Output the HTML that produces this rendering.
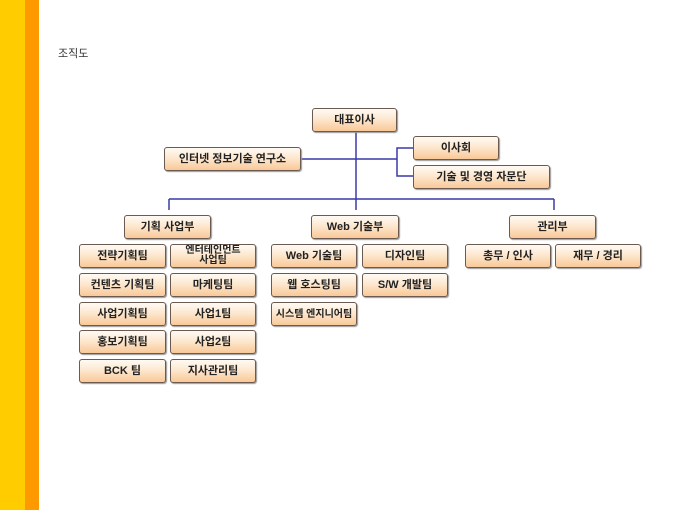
<!DOCTYPE html>
<html><head><meta charset="utf-8"><style>
html,body{margin:0;padding:0;}
body{width:680px;height:510px;position:relative;background:#fff;overflow:hidden;font-family:"Liberation Sans","Noto Sans CJK KR","NanumGothic",sans-serif;}
.y{position:absolute;left:0;top:0;width:25px;height:510px;background:#ffcc00;}
.o{position:absolute;left:25px;top:0;width:14px;height:510px;background:#ff9900;}
.t{position:absolute;left:58px;top:45px;font-size:11px;color:#333;}
.b{position:absolute;box-sizing:border-box;border:1px solid #6a5a50;border-radius:3px;background:linear-gradient(#fffaf4,#fde8d0 45%,#f9c898);font-size:11px;font-weight:bold;color:#222;display:flex;align-items:center;justify-content:center;text-align:center;line-height:11px;box-shadow:1px 1px 1px #999;}
svg{position:absolute;left:0;top:0;}
</style></head><body>
<div class="y"></div><div class="o"></div>
<div class="t">조직도</div>
<svg width="680" height="510">
<g stroke="#3a3aa8" stroke-width="1.5" fill="none">
<line x1="356" y1="131" x2="356" y2="210"/>
<line x1="300" y1="159" x2="397" y2="159"/>
<polyline points="413,148 397,148 397,176 413,176"/>
<line x1="169" y1="199" x2="554" y2="199"/>
<line x1="169" y1="199" x2="169" y2="210"/>
<line x1="554" y1="199" x2="554" y2="210"/>
</g></svg>
<div class="b" style="left:312px;top:108px;width:85px;height:24px">대표이사</div>
<div class="b" style="left:164px;top:147px;width:137px;height:24px">인터넷 정보기술 연구소</div>
<div class="b" style="left:413px;top:136px;width:86px;height:24px">이사회</div>
<div class="b" style="left:413px;top:165px;width:137px;height:24px">기술 및 경영 자문단</div>
<div class="b" style="left:124px;top:215px;width:87px;height:24px">기획 사업부</div>
<div class="b" style="left:311px;top:215px;width:88px;height:24px">Web 기술부</div>
<div class="b" style="left:509px;top:215px;width:87px;height:24px">관리부</div>

<div class="b" style="left:79px;top:244px;width:87px;height:24px">전략기획팀</div>
<div class="b" style="left:170px;top:244px;width:86px;height:24px;font-size:10px;line-height:10px">엔터테인먼트<br>사업팀</div>
<div class="b" style="left:79px;top:273px;width:87px;height:24px">컨텐츠 기획팀</div>
<div class="b" style="left:170px;top:273px;width:86px;height:24px">마케팅팀</div>
<div class="b" style="left:79px;top:302px;width:87px;height:24px">사업기획팀</div>
<div class="b" style="left:170px;top:302px;width:86px;height:24px">사업1팀</div>
<div class="b" style="left:79px;top:330px;width:87px;height:24px">홍보기획팀</div>
<div class="b" style="left:170px;top:330px;width:86px;height:24px">사업2팀</div>
<div class="b" style="left:79px;top:359px;width:87px;height:24px">BCK 팀</div>
<div class="b" style="left:170px;top:359px;width:86px;height:24px">지사관리팀</div>

<div class="b" style="left:271px;top:244px;width:86px;height:24px">Web 기술팀</div>
<div class="b" style="left:362px;top:244px;width:86px;height:24px">디자인팀</div>
<div class="b" style="left:271px;top:273px;width:86px;height:24px">웹 호스팅팀</div>
<div class="b" style="left:362px;top:273px;width:86px;height:24px">S/W 개발팀</div>
<div class="b" style="left:271px;top:302px;width:86px;height:24px;font-size:10px">시스템 엔지니어팀</div>

<div class="b" style="left:465px;top:244px;width:86px;height:24px">총무 / 인사</div>
<div class="b" style="left:555px;top:244px;width:86px;height:24px">재무 / 경리</div>
</body></html>
